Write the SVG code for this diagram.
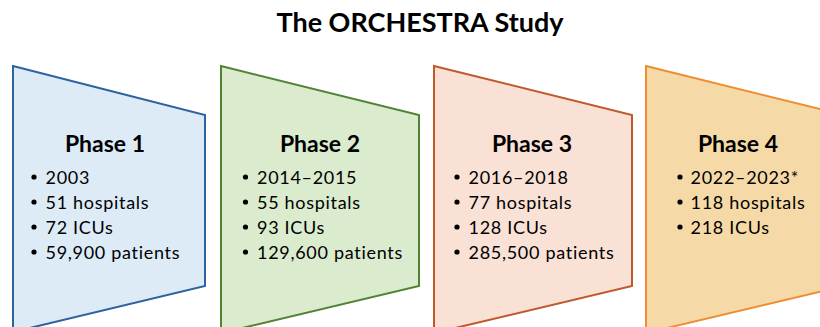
<svg xmlns="http://www.w3.org/2000/svg" width="820" height="327" viewBox="0 0 820 327">
  <style>
    .title { font-family: Lato, "Open Sans", "Liberation Sans", sans-serif; font-weight: bold; font-size: 27px; fill: #000; text-anchor: middle; }
    .head { font-family: Lato, "Open Sans", "Liberation Sans", sans-serif; font-weight: bold; font-size: 23px; fill: #000; text-anchor: middle; }
    .item { font-family: Lato, "Open Sans", "Liberation Sans", sans-serif; font-size: 18px; letter-spacing: 0.7px; fill: #000; }
    .dot { fill: #000; }
    .shape { stroke-width: 2; stroke-linejoin: miter; }
  </style>

  <rect width="820" height="327" fill="#ffffff"/>

  <text class="title" x="420" y="32">The ORCHESTRA Study</text>

  <g id="phase1">
    <polygon class="shape" points="13,66 205,115 205,286 13,332" fill="#DDEBF7" stroke="#2E63A0"/>
    <text class="head" x="105" y="152">Phase 1</text>
    <circle class="dot" cx="34" cy="177" r="2.6"/>
    <text class="item" x="45.5" y="183.5">2003</text>
    <circle class="dot" cx="34" cy="202" r="2.6"/>
    <text class="item" x="45.5" y="208.5">51 hospitals</text>
    <circle class="dot" cx="34" cy="227" r="2.6"/>
    <text class="item" x="45.5" y="233.5">72 ICUs</text>
    <circle class="dot" cx="34" cy="252" r="2.6"/>
    <text class="item" x="45.5" y="258.5">59,900 patients</text>
  </g>

  <g id="phase2">
    <polygon class="shape" points="221,66 419,115 419,286 221,333" fill="#DAEBCE" stroke="#528236"/>
    <text class="head" x="320" y="152">Phase 2</text>
    <circle class="dot" cx="245.5" cy="177" r="2.6"/>
    <text class="item" x="257" y="183.5">2014–2015</text>
    <circle class="dot" cx="245.5" cy="202" r="2.6"/>
    <text class="item" x="257" y="208.5">55 hospitals</text>
    <circle class="dot" cx="245.5" cy="227" r="2.6"/>
    <text class="item" x="257" y="233.5">93 ICUs</text>
    <circle class="dot" cx="245.5" cy="252" r="2.6"/>
    <text class="item" x="257" y="258.5">129,600 patients</text>
  </g>

  <g id="phase3">
    <polygon class="shape" points="434,66 632,115 632,286 434,333" fill="#F9E1D6" stroke="#C0582A"/>
    <text class="head" x="532" y="152">Phase 3</text>
    <circle class="dot" cx="457" cy="177" r="2.6"/>
    <text class="item" x="468.5" y="183.5">2016–2018</text>
    <circle class="dot" cx="457" cy="202" r="2.6"/>
    <text class="item" x="468.5" y="208.5">77 hospitals</text>
    <circle class="dot" cx="457" cy="227" r="2.6"/>
    <text class="item" x="468.5" y="233.5">128 ICUs</text>
    <circle class="dot" cx="457" cy="252" r="2.6"/>
    <text class="item" x="468.5" y="258.5">285,500 patients</text>
  </g>

  <g id="phase4">
    <polygon class="shape" points="646,66 844,115 844,286 646,333" fill="#F5DAA7" stroke="#F08C32"/>
    <text class="head" x="738" y="152">Phase 4</text>
    <circle class="dot" cx="680" cy="177" r="2.6"/>
    <text class="item" x="690.5" y="183.5">2022–2023*</text>
    <circle class="dot" cx="680" cy="202" r="2.6"/>
    <text class="item" x="690.5" y="208.5">118 hospitals</text>
    <circle class="dot" cx="680" cy="227" r="2.6"/>
    <text class="item" x="690.5" y="233.5">218 ICUs</text>
  </g>

  <g id="connectors"></g>
</svg>
